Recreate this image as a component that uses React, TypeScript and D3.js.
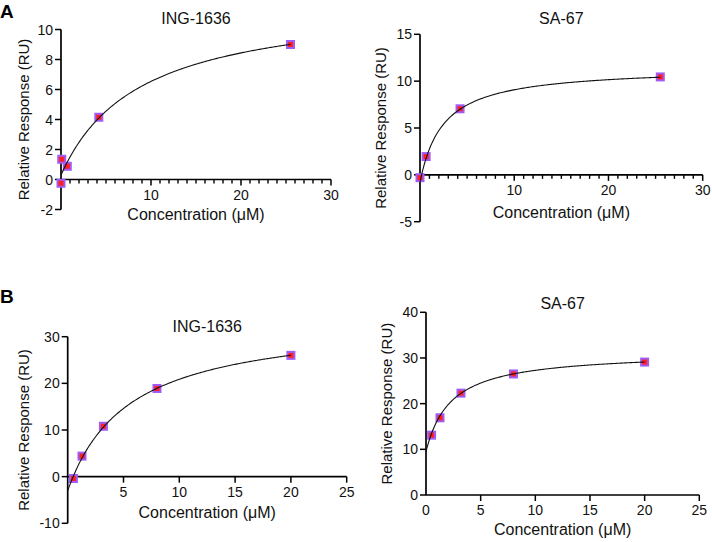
import * as d3 from 'd3';

// Binding responses, concentrations in µM, responses in RU
const ING_A_CONC = [0.08, 0.7, 4.2, 25.5, 0.0];
const ING_A_RESP = [1.35, 0.88, 4.15, 9.0, -0.25];
const SA_A_CONC = [0.0, 0.65, 4.25, 25.5];
const SA_A_RESP = [-0.3, 1.95, 7.05, 10.45];
const ING_B_CONC = [0.512, 1.28, 3.2, 8, 20];
const ING_B_RESP = [-0.4, 4.4, 10.8, 18.9, 26.0];
const SA_B_CONC = [0.512, 1.28, 3.2, 8, 20];
const SA_B_RESP = [13.1, 16.9, 22.3, 26.5, 29.1];

// One-site fits: offset + Bmax * x / (Kd + x)
const ING_A_FIT = { offset: 0.3, bmax: 11.7, kd: 8.75 };
const SA_A_FIT = { offset: -0.8, bmax: 12.3, kd: 2.45 };
const ING_B_FIT = { offset: -3, bmax: 37, kd: 5.5 };
const SA_B_FIT = { offset: 9.5, bmax: 21.85, kd: 2.28 };

const FONT = '"Liberation Sans", Arial, sans-serif';
const MARK_FILL = '#ff1f1f';
const MARK_EDGE = '#a15cf7';

type Fit = { offset: number; bmax: number; kd: number };

interface PanelProps {
  title: string;
  conc: number[];
  resp: number[];
  fit: Fit;
  xMax: number;
  xMajor: number;
  xMinor: number | null;
  yDomain: [number, number];
  yStep: number;
  left: number;
  right: number;
  top: number;
  bottom: number;
  titleY: number;
  xLabelY: number;
  yLabelX: number;
}

function Panel(p: PanelProps) {
  const x = d3.scaleLinear().domain([0, p.xMax]).range([p.left, p.right]);
  const y = d3.scaleLinear().domain(p.yDomain).range([p.bottom, p.top]);
  const axisY = y(Math.max(0, p.yDomain[0]));
  const yTicks = d3.range(p.yDomain[0], p.yDomain[1] + 1e-9, p.yStep);
  const xMajor = d3.range(p.xMajor, p.xMax + 1e-9, p.xMajor);
  const xMinor = p.xMinor
    ? d3.range(p.xMinor, p.xMax, p.xMinor).filter(v => Math.abs(v % p.xMajor) > 1e-9)
    : [];
  const showZero = p.yDomain[0] === 0;

  const model = (c: number) => p.fit.offset + (p.fit.bmax * c) / (p.fit.kd + c);
  const cMax = d3.max(p.conc) ?? p.xMax;
  const samples = d3.range(0, cMax + 1e-9, cMax / 200);
  const curve = d3.line<number>().x(c => x(c)).y(c => y(model(c)))(samples) ?? '';

  const cx = (p.left + p.right) / 2;
  const cy = (p.top + p.bottom) / 2;

  return (
    <g fontFamily={FONT} fill="#111">
      <text x={cx} y={p.titleY} textAnchor="middle" fontSize={16}>{p.title}</text>

      {/* y axis */}
      <line x1={p.left} x2={p.left} y1={p.top} y2={p.bottom} stroke="#000" strokeWidth={1.7} />
      {yTicks.map(t => (
        <g key={`y${t}`}>
          <line x1={p.left - 6} x2={p.left} y1={y(t)} y2={y(t)} stroke="#000" strokeWidth={1.5} />
          <text x={p.left - 8} y={y(t)} dy="0.36em" textAnchor="end" fontSize={14}>{t}</text>
        </g>
      ))}

      {/* x axis */}
      <line x1={p.left} x2={p.right} y1={axisY} y2={axisY} stroke="#000" strokeWidth={1.7} />
      {xMinor.map(t => (
        <line key={`m${t}`} x1={x(t)} x2={x(t)} y1={axisY} y2={axisY + 4} stroke="#000" strokeWidth={1.4} />
      ))}
      {xMajor.map(t => (
        <g key={`x${t}`}>
          <line x1={x(t)} x2={x(t)} y1={axisY} y2={axisY + 6} stroke="#000" strokeWidth={1.5} />
          <text x={x(t)} y={axisY + 20} textAnchor="middle" fontSize={14}>{t}</text>
        </g>
      ))}
      {showZero && (
        <text x={x(0)} y={axisY + 20} textAnchor="middle" fontSize={14}>0</text>
      )}

      <text x={cx} y={p.xLabelY} textAnchor="middle" fontSize={16}>Concentration (μM)</text>
      <text
        transform={`translate(${p.yLabelX},${cy}) rotate(-90)`}
        textAnchor="middle"
        dy="0.35em"
        fontSize={15}
      >
        Relative Response (RU)
      </text>

      {p.conc.map((c, i) => (
        <rect
          key={`pt${i}`}
          x={x(c) - 3.5}
          y={y(p.resp[i]) - 3.5}
          width={7}
          height={7}
          fill={MARK_FILL}
          stroke={MARK_EDGE}
          strokeWidth={2}
        />
      ))}
      <path d={curve} fill="none" stroke="#111" strokeWidth={1.1} />
    </g>
  );
}

export default function App() {
  return (
    <svg
      width={712}
      height={542}
      viewBox="0 0 712 542"
      style={{ display: 'block', position: 'absolute', left: 0, top: 0 }}
    >
      <rect width={712} height={542} fill="#fff" />
      <text x={0} y={18} fontFamily={FONT} fontWeight="bold" fontSize={19} fill="#000">A</text>
      <text x={0} y={303} fontFamily={FONT} fontWeight="bold" fontSize={19} fill="#000">B</text>

      <Panel
        title="ING-1636"
        conc={ING_A_CONC}
        resp={ING_A_RESP}
        fit={ING_A_FIT}
        xMax={30}
        xMajor={10}
        xMinor={1}
        yDomain={[-2, 10]}
        yStep={2}
        left={61}
        right={331}
        top={29.5}
        bottom={209.5}
        titleY={24}
        xLabelY={220}
        yLabelX={24}
      />
      <Panel
        title="SA-67"
        conc={SA_A_CONC}
        resp={SA_A_RESP}
        fit={SA_A_FIT}
        xMax={30}
        xMajor={10}
        xMinor={1}
        yDomain={[-5, 15]}
        yStep={5}
        left={420}
        right={702.7}
        top={34.3}
        bottom={221.7}
        titleY={24}
        xLabelY={218}
        yLabelX={381}
      />
      <Panel
        title="ING-1636"
        conc={ING_B_CONC}
        resp={ING_B_RESP}
        fit={ING_B_FIT}
        xMax={25}
        xMajor={5}
        xMinor={null}
        yDomain={[-10, 30]}
        yStep={10}
        left={67.7}
        right={346.7}
        top={336.7}
        bottom={523.3}
        titleY={332}
        xLabelY={518}
        yLabelX={24}
      />
      <Panel
        title="SA-67"
        conc={SA_B_CONC}
        resp={SA_B_RESP}
        fit={SA_B_FIT}
        xMax={25}
        xMajor={5}
        xMinor={null}
        yDomain={[0, 40]}
        yStep={10}
        left={426}
        right={699.3}
        top={312.3}
        bottom={495}
        titleY={309}
        xLabelY={535}
        yLabelX={387}
      />
    </svg>
  );
}
